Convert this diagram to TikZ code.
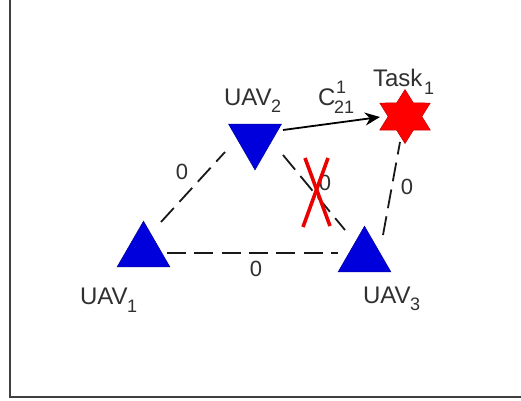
\documentclass[tikz,border=0pt]{standalone}
\usepackage{fontspec}
\setmainfont{Liberation Sans}
\usetikzlibrary{shapes.geometric,arrows.meta}
\definecolor{txt}{HTML}{303030}
\definecolor{uavblue}{HTML}{0000DC}
\tikzset{
  x=1pt,y=-1pt,
  uav/.style={regular polygon,regular polygon sides=3,minimum size=61pt,inner sep=0pt,outer sep=0pt,fill=uavblue,draw=uavblue!70!black,line width=0.5pt},
  tasknode/.style={star,star points=6,star point ratio=1.73,minimum size=54pt,inner sep=0pt,outer sep=0pt,fill=red,draw=red!75!black,line width=0.5pt,transform shape,xscale=1.08},
  lbl/.style={inner sep=0pt,outer sep=0pt,anchor=base west,text=txt,font=\fontsize{24}{24}\selectfont},
  zero/.style={inner sep=0pt,outer sep=0pt,text=txt,font=\fontsize{22}{22}\selectfont},
  small/.style={inner sep=0pt,outer sep=0pt,anchor=base west,text=txt,font=\fontsize{18}{18}\selectfont},
  link/.style={draw=black!90,line width=1.8pt,dash pattern=on 19pt off 8.3pt},
  cross/.style={draw=red!92!black,line width=3.6pt}
}
\begin{document}
\begin{tikzpicture}
\useasboundingbox (0,0) rectangle (521,400);
\fill[white] (0,0) rectangle (521,400);
\draw[line width=2pt,draw=black!75] (10,-2) -- (10,396.5) -- (523,396.5);
\node[uav] (u1) at (143.5,251.7) {};
\node[uav,shape border rotate=180] (u2) at (255,139.4) {};
\node[uav] (u3) at (364.5,256.7) {};
\node[tasknode] (t) at (405,116.5) {};
\coordinate (a1) at ([shift={(17.5,-29.7)}]u1.center);
\coordinate (a2) at ([shift={(-30,12.6)}]u2.center);
\draw[link] (a1) -- (a2);
\coordinate (b1) at ([shift={(23.5,1.3)}]u1.center);
\coordinate (b3) at ([shift={(-26.5,-3.7)}]u3.center);
\draw[link] (b1) -- (b3);
\coordinate (c2) at ([shift={(28,15.6)}]u2.center);
\coordinate (c3) at ([shift={(-19.5,-26.7)}]u3.center);
\draw[link] (c2) -- (c3);
\coordinate (d3) at ([shift={(18.5,-21.7)}]u3.center);
\coordinate (dt) at ([shift={(-5,25.5)}]t.center);
\draw[link] (d3) -- (dt);
\coordinate (e2) at ([shift={(28,-9.4)}]u2.center);
\coordinate (et) at ([shift={(-25,0.5)}]t.center);
\draw[line width=1.8pt,-{Stealth[length=15pt,width=13pt]}] (e2) -- (et);
\coordinate (x1) at (303,227);\coordinate (x2) at (328,158);
\coordinate (x3) at (330,226);\coordinate (x4) at (305,158);
\node[zero] (z1) at (182,172) {0};
\node[zero] (z2) at (256,269) {0};
\node[zero] (z3) at (325,183) {0};
\node[zero] (z4) at (407,187) {0};
\draw[cross] (x1) -- (x2);
\draw[cross] (x3) -- (x4);
\node[lbl] (l1) at (80,304) {UAV};
\node[small] (l1s) at (127,312) {1};
\node[lbl] (l2) at (224,105) {UAV};
\node[small] (l2s) at (271,112) {2};
\node[lbl] (l3) at (363,303) {UAV};
\node[small] (l3s) at (410,310) {3};
\node[lbl] (l4) at (373,86) {Task};
\node[small] (l4s) at (424,94) {1};
\node[lbl] (l5) at (318,105) {C};
\node[small] (l5a) at (336,93) {1};
\node[small] (l5b) at (334,113) {21};
\end{tikzpicture}
\end{document}
